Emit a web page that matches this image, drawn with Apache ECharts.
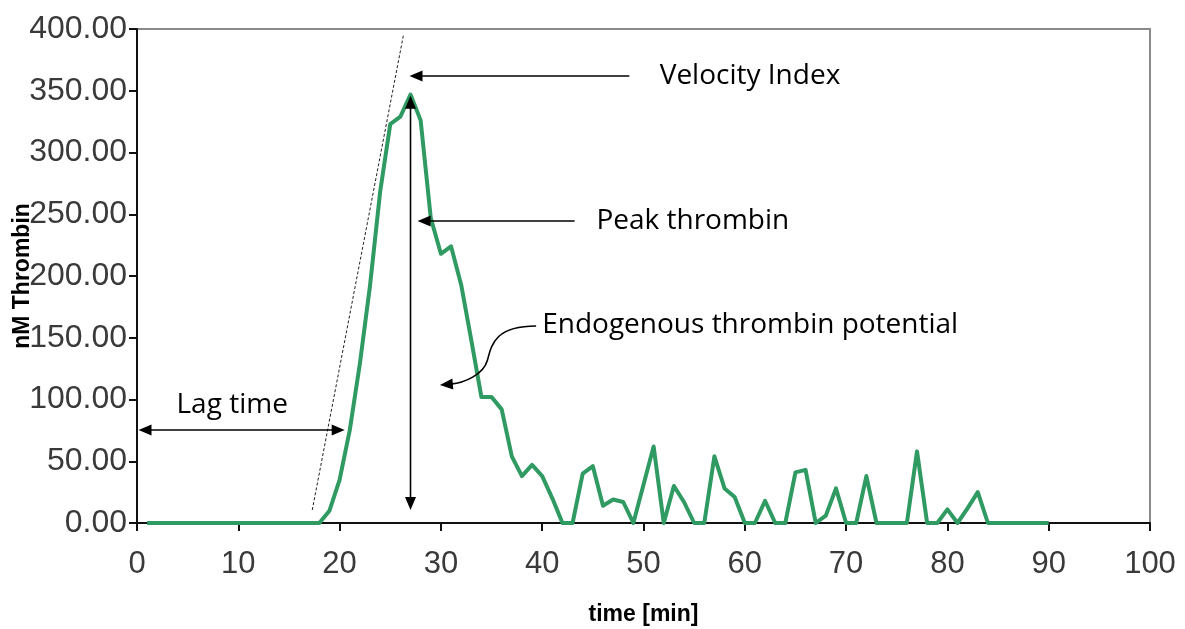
<!DOCTYPE html>
<html>
<head>
<meta charset="utf-8">
<script src="https://cdn.jsdelivr.net/npm/echarts@6/dist/echarts.min.js"></script>
<style>
  html, body { margin: 0; padding: 0; background: #ffffff; }
  #chart { width: 1185px; height: 629px; }
</style>
</head>
<body>
<div id="chart"></div>
<script>
// Thrombin generation curve, one reading per minute
const minutes = [
  1, 2, 3, 4, 5, 6, 7, 8, 9, 10,
  11, 12, 13, 14, 15, 16, 17, 18, 19, 20,
  21, 22, 23, 24, 25, 26, 27, 28, 29, 30,
  31, 32, 33, 34, 35, 36, 37, 38, 39, 40,
  41, 42, 43, 44, 45, 46, 47, 48, 49, 50,
  51, 52, 53, 54, 55, 56, 57, 58, 59, 60,
  61, 62, 63, 64, 65, 66, 67, 68, 69, 70,
  71, 72, 73, 74, 75, 76, 77, 78, 79, 80,
  81, 82, 83, 84, 85, 86, 87, 88, 89, 90
];
const thrombinNM = [
  0, 0, 0, 0, 0, 0, 0, 0, 0, 0,
  0, 0, 0, 0, 0, 0, 0, 0, 10, 35,
  75, 129, 192, 268, 323, 329, 347, 326, 247, 218,
  224, 193, 148, 102, 102, 92, 54, 38, 47, 38,
  20, 0, 0, 40, 46, 14, 19, 17, 0, 31,
  62, 0, 30, 17, 0, 0, 54, 28, 21, 0,
  0, 18, 0, 0, 41, 43, 0, 6, 28, 0,
  0, 38, 0, 0, 0, 0, 58, 0, 0, 11,
  0, 12, 25, 0, 0, 0, 0, 0, 0, 0
];

// Axis ranges
const xTicks = { min: 0, max: 100, step: 10 };
const yTicks = { min: 0, max: 400, step: 50 };

// Annotation labels
const labelVelocity = 'Velocity Index';
const labelPeak = 'Peak thrombin';
const labelETP = 'Endogenous thrombin potential';
const labelLag = 'Lag time';

// Annotation geometry, in axis units [minutes, nM]
const velocityTangent = [[17.3, 10.5], [26.3, 395]];
const velocityArrow = [[48.6, 362], [26.9, 362]];
const velocityText = [51.6, 362];
const peakArrow = [[43.2, 244.5], [27.7, 244.5]];
const peakText = [45.35, 244.5];
const peakBase = 10.5;
const etpCurve = [[39.4, 159.5], [35.3, 159.5], [35.0, 144], [34.6, 132], [34.2, 120], [32.3, 113.4], [29.9, 111.7]];
const etpText = [40.0, 160.5];
const lagArrow = [[0.15, 75.3], [20.5, 75.3]];
const lagText = [3.9, 95.5];

const peakIdx = thrombinNM.indexOf(Math.max(...thrombinNM));
const peakTime = minutes[peakIdx];
const peakValue = thrombinNM[peakIdx];

const ANNO_FONT = '28px "Open Sans", "Liberation Sans", sans-serif';
const HEAD_LEN = 13, HEAD_HALF = 5.5;

function head(tip, from) {
  const dx = tip[0] - from[0], dy = tip[1] - from[1];
  const d = Math.hypot(dx, dy) || 1;
  const ux = dx / d, uy = dy / d;
  const bx = tip[0] - ux * HEAD_LEN, by = tip[1] - uy * HEAD_LEN;
  return {
    type: 'polygon',
    shape: { points: [tip, [bx - uy * HEAD_HALF, by + ux * HEAD_HALF], [bx + uy * HEAD_HALF, by - ux * HEAD_HALF]] },
    style: { fill: '#000' }
  };
}

function trim(p, toward, len) {
  const dx = toward[0] - p[0], dy = toward[1] - p[1];
  const d = Math.hypot(dx, dy) || 1;
  return [p[0] + dx / d * len, p[1] + dy / d * len];
}

function arrow(a, b, both) {
  const s = both ? trim(a, b, HEAD_LEN - 2) : a;
  const e = trim(b, a, HEAD_LEN - 2);
  const out = [
    { type: 'line', shape: { x1: s[0], y1: s[1], x2: e[0], y2: e[1] }, style: { stroke: '#000', lineWidth: 1.6 } },
    head(b, a)
  ];
  if (both) out.push(head(a, b));
  return out;
}

function label(text, p) {
  return {
    type: 'text', x: p[0], y: p[1],
    style: { text, font: ANNO_FONT, fill: '#000', align: 'left', verticalAlign: 'middle', textAlign: 'left', textVerticalAlign: 'middle' }
  };
}

function renderAnnotations(params, api) {
  const c = (p) => api.coord(p);
  const kids = [];
  // tangent at the steepest rise
  const t0 = c(velocityTangent[0]), t1 = c(velocityTangent[1]);
  kids.push({ type: 'line', shape: { x1: t0[0], y1: t0[1], x2: t1[0], y2: t1[1] }, style: { stroke: '#222', lineWidth: 1, lineDash: [3, 2] } });
  kids.push(...arrow(c(velocityArrow[0]), c(velocityArrow[1]), false));
  kids.push(label(labelVelocity, c(velocityText)));
  kids.push(...arrow(c(peakArrow[0]), c(peakArrow[1]), false));
  kids.push(label(labelPeak, c(peakText)));
  // peak height marker
  kids.push(...arrow(c([peakTime, peakBase]), c([peakTime, peakValue - 1]), true));
  // curved pointer for the area under the curve
  const q = etpCurve.map(c);
  kids.push({
    type: 'path',
    shape: {
      pathData: 'M' + q[0].join(' ') + ' C' + q[1].join(' ') + ' ' + q[2].join(' ') + ' ' + q[3].join(' ') +
        ' C' + q[4].join(' ') + ' ' + q[5].join(' ') + ' ' + trim(q[6], q[5], HEAD_LEN - 2).join(' ')
    },
    style: { stroke: '#000', lineWidth: 1.6, fill: null }
  });
  kids.push(head(q[6], q[5]));
  kids.push(label(labelETP, c(etpText)));
  kids.push(...arrow(c(lagArrow[0]), c(lagArrow[1]), true));
  kids.push(label(labelLag, c(lagText)));
  return { type: 'group', children: kids };
}

const chart = echarts.init(document.getElementById('chart'), null, { renderer: 'canvas' });
chart.setOption({
  animation: false,
  backgroundColor: '#ffffff',
  grid: {
    left: 137, right: 35, top: 29, bottom: 106,
    containLabel: false, outerBoundsMode: 'none',
    show: true, borderColor: '#8a8a8a', borderWidth: 2, backgroundColor: 'transparent'
  },
  xAxis: {
    type: 'value', min: xTicks.min, max: xTicks.max, interval: xTicks.step,
    name: 'time [min]', nameLocation: 'middle', nameGap: 80, nameMoveOverlap: false,
    nameTextStyle: { fontFamily: 'Liberation Sans', fontWeight: 'bold', fontSize: 23, color: '#000' },
    axisLine: { show: true, onZero: false, lineStyle: { color: '#111', width: 2 } },
    axisTick: { show: true, inside: false, length: 8, lineStyle: { color: '#111', width: 2 } },
    axisLabel: { fontFamily: 'Liberation Sans', fontSize: 31, color: '#3a3a3a', margin: 26 },
    splitLine: { show: false }
  },
  yAxis: {
    type: 'value', min: yTicks.min, max: yTicks.max, interval: yTicks.step,
    name: 'nM Thrombin', nameLocation: 'middle', nameGap: 103, nameRotate: 90, nameMoveOverlap: false,
    nameTextStyle: { fontFamily: 'Liberation Sans', fontWeight: 'bold', fontSize: 23, color: '#000' },
    axisLine: { show: true, onZero: false, lineStyle: { color: '#111', width: 2 } },
    axisTick: { show: true, inside: false, length: 8, lineStyle: { color: '#111', width: 2 } },
    axisLabel: { fontFamily: 'Liberation Sans', fontSize: 32, color: '#3a3a3a', margin: 10, formatter: (v) => v.toFixed(2) },
    splitLine: { show: false }
  },
  series: [
    {
      type: 'line',
      data: minutes.map((m, i) => [m, thrombinNM[i]]),
      showSymbol: false,
      lineStyle: { color: '#2f9a62', width: 4, join: 'round' },
      z: 3
    },
    {
      type: 'custom',
      data: [[0, 0]],
      renderItem: renderAnnotations,
      silent: true,
      clip: false,
      z: 5
    }
  ]
});
</script>
</body>
</html>
